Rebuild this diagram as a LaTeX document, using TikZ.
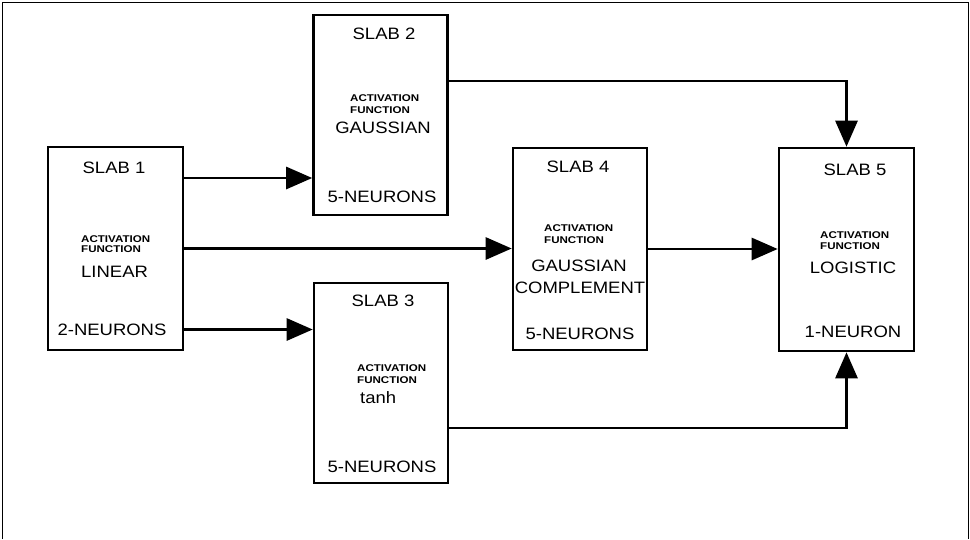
\documentclass[tikz,border=0pt]{standalone}
\usepackage{fontspec}
\setmainfont{Liberation Sans}
\newfontfamily\plotfont{Liberation Sans}[FakeStretch=1.12]
\newfontfamily\plotsmall{Liberation Sans Bold}[FakeStretch=1.18]
\usetikzlibrary{arrows.meta}
\begin{document}
\begin{tikzpicture}[x=1pt,y=-1pt,
  slab/.style={draw, line width=2.6pt, inner sep=0pt},
  conn/.style={line width=2.8pt, -{Triangle[length=26pt,width=22pt]}},
  big/.style={font=\fontsize{16.5}{18}\plotfont, inner sep=0pt},
  small/.style={font=\fontsize{9.8}{11}\plotsmall, inner sep=0pt, anchor=west},
  frame/.style={line width=1.3pt}]
\useasboundingbox (0,0) rectangle (970,539);
\draw[frame] (2.5,539) -- (2.5,2.5) -- (968.5,2.5) -- (968.5,539);
% boxes
\node[slab, minimum width=135pt, minimum height=203pt] (s1) at (115.5,248.5) {};
\node[slab, minimum width=134pt, minimum height=200pt] (s2) at (380.5,115) {};
\node[slab, minimum width=134pt, minimum height=200pt] (s3) at (381,383) {};
\node[slab, minimum width=134pt, minimum height=202pt] (s4) at (580,249) {};
\node[slab, minimum width=135pt, minimum height=203pt] (s5) at (846.5,249.5) {};
% slab 1 text
\node[big] (t1a) at (114,168) {SLAB 1};
\node[small] (t1b) at (81,239.5) {ACTIVATION};
\node[small] (t1c) at (81,249) {FUNCTION};
\node[big, anchor=west] (t1d) at (81,272) {LINEAR};
\node[big] (t1e) at (112,330) {2-NEURONS};
% slab 2 text
\node[big] (t2a) at (384,34) {SLAB 2};
\node[small] (t2b) at (350,98) {ACTIVATION};
\node[small] (t2c) at (350,110) {FUNCTION};
\node[big] (t2d) at (383,128) {GAUSSIAN};
\node[big] (t2e) at (382,197) {5-NEURONS};
% slab 3 text
\node[big] (t3a) at (383,301) {SLAB 3};
\node[small] (t3b) at (357,368) {ACTIVATION};
\node[small] (t3c) at (357,380) {FUNCTION};
\node[big, anchor=west] (t3d) at (360,398) {tanh};
\node[big] (t3e) at (382,467) {5-NEURONS};
% slab 4 text
\node[big] (t4a) at (578,167) {SLAB 4};
\node[small] (t4b) at (544,228) {ACTIVATION};
\node[small] (t4c) at (544,240) {FUNCTION};
\node[big] (t4d) at (579,266) {GAUSSIAN};
\node[big] (t4e) at (580,288) {COMPLEMENT};
\node[big] (t4f) at (580,334) {5-NEURONS};
% slab 5 text
\node[big] (t5a) at (855,170) {SLAB 5};
\node[small] (t5b) at (820,235) {ACTIVATION};
\node[small] (t5c) at (820,246) {FUNCTION};
\node[big] (t5d) at (853,268) {LOGISTIC};
\node[big] (t5e) at (853,332) {1-NEURON};
% connectors
\draw[conn] ([yshift=70.5pt]s1.east) -- ([yshift=70.5pt]s1.east -| s2.west);
\draw[conn] (s1.east) -- (s1.east -| s4.west);
\draw[conn] ([yshift=-81pt]s1.east) -- ([yshift=-81pt]s1.east -| s3.west);
\draw[conn] (s4.east) -- (s4.east -| s5.west);
\draw[conn] ([yshift=34pt]s2.east) -| (s5.north);
\draw[conn] ([yshift=-45pt]s3.east) -| (s5.south);
\end{tikzpicture}
\end{document}
